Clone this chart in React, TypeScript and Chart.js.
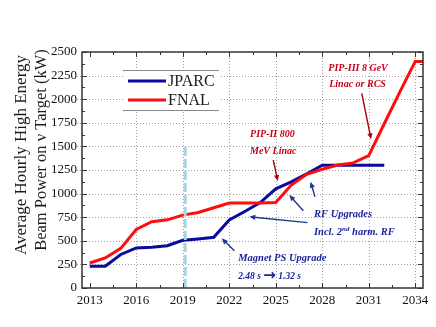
import { useEffect, useRef } from 'react';
import { Chart, registerables } from 'chart.js';

Chart.register(...registerables);

// ---- data ----
const jparcYears = [2013, 2014, 2015, 2016, 2017, 2018, 2019, 2020, 2021, 2022, 2023, 2024, 2025, 2026, 2027, 2028, 2029, 2030, 2031, 2032];
const jparcPower = [230, 230, 355, 425, 432, 448, 505, 520, 538, 720, 810, 905, 1050, 1125, 1210, 1300, 1300, 1300, 1300, 1300];

const fnalYears = [2013, 2014, 2015, 2016, 2017, 2018, 2019, 2020, 2021, 2022, 2023, 2024, 2025, 2026, 2027, 2028, 2029, 2030, 2031, 2032, 2033, 2034, 2035];
const fnalPower = [265, 318, 420, 620, 703, 722, 772, 800, 850, 900, 900, 900, 905, 1090, 1205, 1258, 1302, 1325, 1403, 1740, 2075, 2400, 2400];

const markerYears = [2019.16, 2019.16];
const markerPower = [0, 1515];

const xTicks = [2013, 2016, 2019, 2022, 2025, 2028, 2031, 2034];
const yTicks = [0, 250, 500, 750, 1000, 1250, 1500, 1750, 2000, 2250, 2500];

const yTitleLines = ['Average Hourly High Energy', 'Beam Power on \u03BD Target (kW)'];

const RED = '#ff0d0d';
const BLUE = '#0a0aa0';
const ANN_RED = '#c4001a';
const ANN_BLUE = '#1d239c';
const ARROW_RED = '#a80010';
const ARROW_BLUE = '#1c3a8a';

const SERIF = '"Liberation Serif", "Times New Roman", serif';
const ANN_FONT = (size: number) => `italic bold ${size}px "Liberation Serif", serif`;

type Seg = { text: string; font: string; dy?: number };

function drawSegs(ctx: CanvasRenderingContext2D, x: number, y: number, segs: Seg[], color: string) {
  let cx = x;
  ctx.fillStyle = color;
  ctx.textAlign = 'left';
  ctx.textBaseline = 'alphabetic';
  for (const s of segs) {
    ctx.font = s.font;
    ctx.fillText(s.text, cx, y + (s.dy || 0));
    cx += ctx.measureText(s.text).width;
  }
}

function drawArrow(ctx: CanvasRenderingContext2D, x1: number, y1: number, x2: number, y2: number, color: string) {
  const a = Math.atan2(y2 - y1, x2 - x1);
  const L = 6;
  const W = 2.6;
  ctx.strokeStyle = color;
  ctx.fillStyle = color;
  ctx.lineWidth = 1.4;
  ctx.setLineDash([]);
  ctx.beginPath();
  ctx.moveTo(x1, y1);
  ctx.lineTo(x2 - (L - 1) * Math.cos(a), y2 - (L - 1) * Math.sin(a));
  ctx.stroke();
  ctx.beginPath();
  ctx.moveTo(x2, y2);
  ctx.lineTo(x2 - L * Math.cos(a) + W * Math.sin(a), y2 - L * Math.sin(a) - W * Math.cos(a));
  ctx.lineTo(x2 - L * Math.cos(a) - W * Math.sin(a), y2 - L * Math.sin(a) + W * Math.cos(a));
  ctx.closePath();
  ctx.fill();
}

const decorPlugin = {
  id: 'decor',
  beforeDatasetsDraw(chart: any) {
    const { ctx, chartArea: ca, scales } = chart;
    const xs = scales.x;
    const ys = scales.y;
    ctx.save();
    ctx.strokeStyle = '#a0a0a0';
    ctx.lineWidth = 1;
    ctx.setLineDash([1, 2]);
    for (const v of xTicks.slice(1)) {
      const px = Math.round(xs.getPixelForValue(v)) + 0.5;
      ctx.beginPath();
      ctx.moveTo(px, ca.top);
      ctx.lineTo(px, ca.bottom);
      ctx.stroke();
    }
    for (const v of yTicks.slice(1, -1)) {
      const py = Math.round(ys.getPixelForValue(v)) + 0.5;
      ctx.beginPath();
      ctx.moveTo(ca.left - 5, py);
      ctx.lineTo(ca.right, py);
      ctx.stroke();
    }
    ctx.restore();
  },
  afterDatasetsDraw(chart: any) {
    const { ctx, chartArea: ca, scales } = chart;
    const xs = scales.x;
    const ys = scales.y;
    const P = (xv: number, yv: number): [number, number] => [xs.getPixelForValue(xv), ys.getPixelForValue(yv)];
    ctx.save();
    ctx.setLineDash([]);

    // frame
    ctx.strokeStyle = '#333';
    ctx.lineWidth = 1.5;
    ctx.strokeRect(ca.left, ca.top, ca.right - ca.left, ca.bottom - ca.top);

    // inward ticks
    ctx.lineWidth = 1;
    const xMinor = xTicks.slice(0, -1).map((v, i) => (v + xTicks[i + 1]) / 2);
    const yMinor = yTicks.slice(0, -1).map((v, i) => (v + yTicks[i + 1]) / 2);
    const tickX = (v: number, len: number) => {
      const px = Math.round(xs.getPixelForValue(v)) + 0.5;
      ctx.beginPath();
      ctx.moveTo(px, ca.bottom);
      ctx.lineTo(px, ca.bottom - len);
      ctx.moveTo(px, ca.top);
      ctx.lineTo(px, ca.top + len);
      ctx.stroke();
    };
    const tickY = (v: number, len: number) => {
      const py = Math.round(ys.getPixelForValue(v)) + 0.5;
      ctx.beginPath();
      ctx.moveTo(ca.left, py);
      ctx.lineTo(ca.left + len, py);
      ctx.moveTo(ca.right, py);
      ctx.lineTo(ca.right - len, py);
      ctx.stroke();
    };
    xTicks.forEach((v) => tickX(v, 5));
    xMinor.forEach((v) => tickX(v, 3));
    yTicks.forEach((v) => tickY(v, 5));
    yMinor.forEach((v) => tickY(v, 3));

    // legend
    const lx = ca.left + 41;
    const lw = 96;
    const ly = ca.top + 18;
    const lh = 40;
    ctx.fillStyle = '#fff';
    ctx.fillRect(lx, ly, lw, lh);
    ctx.strokeStyle = '#8a8a8a';
    ctx.lineWidth = 1;
    ctx.beginPath();
    ctx.moveTo(lx, ly + 0.5);
    ctx.lineTo(lx + lw, ly + 0.5);
    ctx.moveTo(lx, ly + lh + 0.5);
    ctx.lineTo(lx + lw, ly + lh + 0.5);
    ctx.stroke();
    const legendItems = [chart.data.datasets[2], chart.data.datasets[1]];
    legendItems.forEach((ds: any, i: number) => {
      const yy = ly + 11 + i * 19;
      ctx.strokeStyle = ds.borderColor;
      ctx.lineWidth = 3;
      ctx.beginPath();
      ctx.moveTo(lx + 5, yy);
      ctx.lineTo(lx + 43, yy);
      ctx.stroke();
      ctx.fillStyle = '#1a1a1a';
      ctx.font = `16px ${SERIF}`;
      ctx.textAlign = 'left';
      ctx.textBaseline = 'middle';
      ctx.fillText(ds.label, lx + 45, yy + 0.5);
    });

    // annotations
    const fr = ANN_FONT(10);
    const f = ANN_FONT(10.5);
    let p = P(2028.39, 2302);
    drawSegs(ctx, p[0], p[1], [{ text: 'PIP-III 8 GeV', font: fr }], ANN_RED);
    p = P(2028.45, 2126);
    drawSegs(ctx, p[0], p[1], [{ text: 'Linac or RCS', font: fr }], ANN_RED);
    let a = P(2030.55, 2062), b = P(2031.15, 1575);
    drawArrow(ctx, a[0], a[1], b[0], b[1], ARROW_RED);

    p = P(2023.34, 1603);
    drawSegs(ctx, p[0], p[1], [{ text: 'PIP-II 800', font: fr }], ANN_RED);
    p = P(2023.34, 1419);
    drawSegs(ctx, p[0], p[1], [{ text: 'MeV Linac', font: fr }], ANN_RED);
    a = P(2024.84, 1356); b = P(2025.13, 1133);
    drawArrow(ctx, a[0], a[1], b[0], b[1], ARROW_RED);

    p = P(2027.47, 752);
    drawSegs(ctx, p[0], p[1], [{ text: 'RF Upgrades', font: f }], ANN_BLUE);
    p = P(2027.47, 561);
    drawSegs(ctx, p[0], p[1], [
      { text: 'Incl. 2', font: f },
      { text: 'nd', font: ANN_FONT(7), dy: -4 },
      { text: ' harm. RF', font: f },
    ], ANN_BLUE);
    a = P(2026.78, 819); b = P(2025.87, 985);
    drawArrow(ctx, a[0], a[1], b[0], b[1], ARROW_BLUE);
    a = P(2027.53, 967); b = P(2027.25, 1126);
    drawArrow(ctx, a[0], a[1], b[0], b[1], ARROW_BLUE);
    a = P(2027.04, 692); b = P(2023.29, 755);
    drawArrow(ctx, a[0], a[1], b[0], b[1], ARROW_BLUE);

    p = P(2022.58, 289);
    drawSegs(ctx, p[0], p[1], [{ text: 'Magnet PS Upgrade', font: f }], ANN_BLUE);
    p = P(2022.58, 95);
    drawSegs(ctx, p[0], p[1], [
      { text: '2.48 s ', font: ANN_FONT(9.5) },
      { text: '\u2192', font: 'bold 15px "DejaVu Sans", sans-serif', dy: 1 },
      { text: ' 1.32 s', font: ANN_FONT(9.5) },
    ], ANN_BLUE);
    a = P(2022.33, 395); b = P(2021.51, 526);
    drawArrow(ctx, a[0], a[1], b[0], b[1], ARROW_BLUE);

    // y-axis title
    ctx.fillStyle = '#1a1a1a';
    ctx.textAlign = 'center';
    ctx.textBaseline = 'middle';
    const centers: [number, number, number][] = [[21.5, 155, 17], [41.5, 150, 16.5]];
    yTitleLines.forEach((t, i) => {
      ctx.save();
      ctx.font = `${centers[i][2]}px ${SERIF}`;
      ctx.translate(centers[i][0], centers[i][1]);
      ctx.rotate(-Math.PI / 2);
      ctx.fillText(t, 0, 0);
      ctx.restore();
    });

    ctx.restore();
  },
};

export default function App() {
  const ref = useRef<HTMLCanvasElement | null>(null);

  useEffect(() => {
    if (!ref.current) return;
    const chart = new Chart(ref.current, {
      type: 'line',
      data: {
        datasets: [
          {
            label: 'marker',
            data: markerYears.map((x, i) => ({ x, y: markerPower[i] })),
            borderColor: '#a8d4e4',
            borderWidth: 3,
            borderDash: [9, 3],
            pointRadius: 0,
            order: 0,
          },
          {
            label: 'FNAL',
            data: fnalYears.map((x, i) => ({ x, y: fnalPower[i] })),
            borderColor: RED,
            borderWidth: 3,
            pointRadius: 0,
            tension: 0,
            clip: 0,
            order: 1,
          },
          {
            label: 'JPARC',
            data: jparcYears.map((x, i) => ({ x, y: jparcPower[i] })),
            borderColor: BLUE,
            borderWidth: 3,
            pointRadius: 0,
            tension: 0,
            clip: 0,
            order: 2,
          },
        ],
      },
      options: {
        responsive: false,
        animation: false,
        layout: { padding: { top: 52, right: 13, left: 0, bottom: 0 } },
        plugins: { legend: { display: false }, tooltip: { enabled: false } },
        scales: {
          x: {
            type: 'linear',
            min: 2012.5,
            max: 2034.5,
            afterBuildTicks: (s: any) => {
              s.ticks = xTicks.map((v) => ({ value: v }));
            },
            afterFit: (s: any) => {
              s.height = 39;
            },
            grid: { display: false, drawTicks: false },
            border: { display: false },
            ticks: {
              color: '#111',
              font: { family: SERIF, size: 13 },
              padding: 5,
              maxRotation: 0,
              autoSkip: false,
              callback: (v: any) => String(v),
            },
          },
          y: {
            type: 'linear',
            min: 0,
            max: 2500,
            afterBuildTicks: (s: any) => {
              s.ticks = yTicks.map((v) => ({ value: v }));
            },
            afterFit: (s: any) => {
              s.width = 82;
            },
            grid: { display: false, drawTicks: false },
            border: { display: false },
            ticks: {
              color: '#111',
              font: { family: SERIF, size: 13 },
              padding: 5,
              autoSkip: false,
              callback: (v: any) => String(v),
            },
          },
        },
      },
      plugins: [decorPlugin],
    });
    return () => chart.destroy();
  }, []);

  return (
    <div style={{ position: 'fixed', left: 0, top: 0, width: 436, height: 327, background: '#fff' }}>
      <canvas ref={ref} width={436} height={327} />
    </div>
  );
}
